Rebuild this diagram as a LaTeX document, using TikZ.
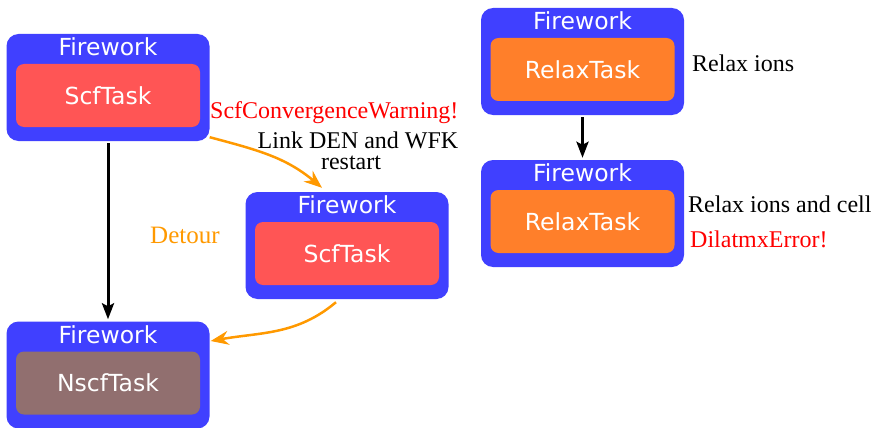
\documentclass[tikz,border=0pt]{standalone}
\usepackage{fontspec}
\setmainfont{Liberation Serif}
\newfontfamily\boxfont{DejaVu Sans}
\usepackage{xcolor}
\usetikzlibrary{arrows.meta, positioning, calc}

\definecolor{fwblue}{HTML}{4040FF}
\definecolor{scfred}{HTML}{FF5555}
\definecolor{relaxorange}{HTML}{FF7F2A}
\definecolor{nscfbrown}{HTML}{916F6F}
\definecolor{detourorange}{HTML}{FF9900}

\begin{document}
\begin{tikzpicture}[
  x=1pt, y=-1pt,
  font=\fontsize{24}{21}\selectfont,
  firework/.style={rectangle, rounded corners=12pt, fill=fwblue,
                   minimum width=203pt, minimum height=107pt, inner sep=0pt},
  task/.style={rectangle, rounded corners=8pt, text=white,
               minimum width=184pt, minimum height=63pt, inner sep=0pt,
               font=\boxfont\fontsize{23.5}{28}\selectfont},
  fwtitle/.style={text=white, inner sep=0pt, font=\boxfont\fontsize{23.5}{28}\selectfont},
  note/.style={inner sep=0pt},
  link/.style={-{Stealth[length=16pt, width=12pt, inset=3pt]}, line width=3pt,
               shorten <=2pt, shorten >=2pt},
  detour/.style={-{Stealth[length=18pt, width=14pt, inset=6pt]}, line width=2.5pt,
                 draw=detourorange}
]
\useasboundingbox (0,0) rectangle (876,428);

% --- fireworks with their tasks ---
\foreach \n/\x/\y/\col/\job in {fwa/108/87.5/scfred/ScfTask,
                                 fwb/347/245.5/scfred/ScfTask,
                                 fwc/108/375/nscfbrown/NscfTask,
                                 fwd/582.5/61.5/relaxorange/RelaxTask,
                                 fwe/582.5/213.5/relaxorange/RelaxTask} {
  \node[firework] (\n) at (\x,\y) {};
  \node[task, fill=\col] (\n task) at ([yshift=-8pt]\n.center) {\job};
  \node[fwtitle] (\n title) at ([yshift=-13pt]\n.north) {Firework};
}

% --- plain links ---
\draw[link] (fwa) -- (fwc);
\draw[link] (fwd) -- (fwe);

% --- detour ---
\draw[detour] ([yshift=4pt]fwa.south east) to[out=-15, in=140]
  ([xshift=-25pt, yshift=4pt]fwb.north);
\draw[detour] ([xshift=-11pt, yshift=-3pt]fwb.south) to[out=-140, in=10]
  ([xshift=1pt, yshift=34pt]fwc.east);

% --- annotations ---
\node[note, anchor=base west, text=red] (warn) at (210,118) {ScfConvergenceWarning!};
\node[note, anchor=base] (linkden) at (358,148) {Link DEN and WFK};
\node[note, anchor=base] (restart) at (351,169) {restart};
\node[note, anchor=base west, text=detourorange,
      font=\fontsize{25}{30}\selectfont] (detourlbl) at (150,243) {Detour};
\node[note, anchor=base west] (ions) at (692,72) {Relax ions};
\node[note, anchor=base west] (cell) at (688,212) {Relax ions and cell};
\node[note, anchor=base west, text=red] (dilatmx) at (690,247) {DilatmxError!};
\end{tikzpicture}
\end{document}
